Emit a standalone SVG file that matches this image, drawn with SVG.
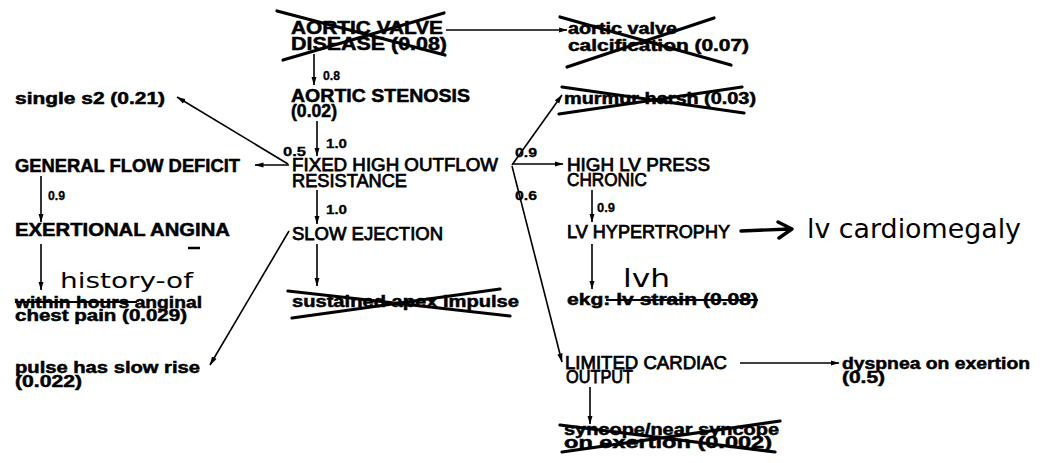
<svg xmlns="http://www.w3.org/2000/svg" width="1042" height="463" viewBox="0 0 1042 463">
  <style>
    text { font-family: "Liberation Sans", Arial, sans-serif; fill: #000; }
    .b { font-size: 17.5px; font-weight: bold; stroke: #000; stroke-width: 0.5; }
    .l { font-size: 16px; font-weight: bold; stroke: #000; stroke-width: 0.5; }
    .m { font-size: 17.5px; stroke: #000; stroke-width: 0.75; }
    .p { font-size: 13px; font-weight: bold; stroke: #000; stroke-width: 0.3; }
    .hand { font-family: "DejaVu Sans", sans-serif; }
    .edge { stroke: #000; stroke-width: 1.6; fill: none; }
    .cross { stroke: #000; stroke-width: 3.2; stroke-linecap: round; fill: none; }
    .strike { stroke: #000; stroke-width: 2; fill: none; }
  </style>
  <defs>
    <marker id="arr" markerUnits="userSpaceOnUse" markerWidth="9" markerHeight="6" refX="8.5" refY="3" orient="auto">
      <path d="M0,0.4 L9,3 L0,5.6 z" fill="#000"/>
    </marker>
  </defs>
  <rect width="1042" height="463" fill="#fff"/>

  <!-- connectors -->
  <g id="connectors">
    <line class="edge" x1="446" y1="30" x2="567" y2="30" marker-end="url(#arr)"/>
    <line class="edge" x1="314" y1="54" x2="314" y2="85" marker-end="url(#arr)"/>
    <line class="edge" x1="317" y1="121" x2="317" y2="156" marker-end="url(#arr)"/>
    <line class="edge" x1="289" y1="165" x2="255" y2="165" marker-end="url(#arr)"/>
    <line class="edge" x1="288" y1="164" x2="177" y2="97" marker-end="url(#arr)"/>
    <line class="edge" x1="317" y1="190" x2="317" y2="224" marker-end="url(#arr)"/>
    <line class="edge" x1="41" y1="176" x2="41" y2="222" marker-end="url(#arr)"/>
    <line class="edge" x1="41" y1="244" x2="41" y2="290" marker-end="url(#arr)"/>
    <line class="edge" x1="289" y1="231" x2="210" y2="365" marker-end="url(#arr)"/>
    <line class="edge" x1="317" y1="244" x2="317" y2="286" marker-end="url(#arr)"/>
    <line class="edge" x1="512" y1="165" x2="562" y2="95" marker-end="url(#arr)"/>
    <line class="edge" x1="512" y1="164" x2="563" y2="164" marker-end="url(#arr)"/>
    <line class="edge" x1="512" y1="166" x2="562" y2="362" marker-end="url(#arr)"/>
    <line class="edge" x1="592" y1="190" x2="592" y2="222" marker-end="url(#arr)"/>
    <line class="edge" x1="592" y1="244" x2="592" y2="289" marker-end="url(#arr)"/>
    <line class="edge" x1="740" y1="363" x2="839" y2="363" marker-end="url(#arr)"/>
    <line class="edge" x1="590" y1="387" x2="590" y2="424" marker-end="url(#arr)"/>
    <!-- hand-drawn arrow to the added note -->
    <path d="M741,231 L790,229 M778,222 L792,229 L779,238" fill="none" stroke="#000" stroke-width="3.4" stroke-linecap="round" stroke-linejoin="round"/>
    <!-- edge probabilities -->
    <text class="p" x="323" y="80" textLength="17" lengthAdjust="spacingAndGlyphs">0.8</text>
    <text class="p" x="326" y="148" textLength="21" lengthAdjust="spacingAndGlyphs">1.0</text>
    <text class="p" x="283" y="156" textLength="23" lengthAdjust="spacingAndGlyphs">0.5</text>
    <text class="p" x="326" y="214" textLength="21" lengthAdjust="spacingAndGlyphs">1.0</text>
    <text class="p" x="48" y="200" textLength="17" lengthAdjust="spacingAndGlyphs">0.9</text>
    <text class="p" x="515" y="157" textLength="22" lengthAdjust="spacingAndGlyphs">0.9</text>
    <text class="p" x="515" y="200" textLength="22" lengthAdjust="spacingAndGlyphs">0.6</text>
    <text class="p" x="597" y="212" textLength="18" lengthAdjust="spacingAndGlyphs">0.9</text>
  </g>

  <g id="aortic-valve-disease">
    <text class="b" x="291" y="34" textLength="152" lengthAdjust="spacingAndGlyphs">AORTIC VALVE</text>
    <text class="b" x="291" y="50" textLength="156" lengthAdjust="spacingAndGlyphs">DISEASE (0.08)</text>
    <path class="cross" d="M277,11 L445,55 M283,60 L444,13"/>
  </g>

  <g id="aortic-valve-calcification">
    <text class="l" x="568" y="34" textLength="109" lengthAdjust="spacingAndGlyphs">aortic valve</text>
    <text class="l" x="568" y="51" textLength="181" lengthAdjust="spacingAndGlyphs">calcification (0.07)</text>
    <path class="cross" d="M560,17 L731,65 M567,67 L714,18"/>
  </g>

  <g id="aortic-stenosis">
    <text class="b" x="291" y="102" textLength="179" lengthAdjust="spacingAndGlyphs">AORTIC STENOSIS</text>
    <text class="b" x="291" y="117" textLength="46" lengthAdjust="spacingAndGlyphs">(0.02)</text>
  </g>

  <g id="murmur">
    <text class="l" x="564" y="104" textLength="192" lengthAdjust="spacingAndGlyphs">murmur harsh (0.03)</text>
    <path class="cross" d="M562,87 L744,113 M559,114 L742,87"/>
  </g>

  <g id="single-s2">
    <text class="l" x="15" y="104" textLength="150" lengthAdjust="spacingAndGlyphs">single s2 (0.21)</text>
  </g>

  <g id="general-flow-deficit">
    <text class="b" x="15" y="172" textLength="225" lengthAdjust="spacingAndGlyphs">GENERAL FLOW DEFICIT</text>
  </g>

  <g id="fixed-high-outflow">
    <text class="m" x="292" y="171" textLength="206" lengthAdjust="spacingAndGlyphs">FIXED HIGH OUTFLOW</text>
    <text class="m" x="292" y="187" textLength="115" lengthAdjust="spacingAndGlyphs">RESISTANCE</text>
  </g>

  <g id="high-lv-press">
    <text class="m" x="567" y="171" textLength="143" lengthAdjust="spacingAndGlyphs">HIGH LV PRESS</text>
    <text class="m" x="567" y="186" textLength="80" lengthAdjust="spacingAndGlyphs">CHRONIC</text>
  </g>

  <g id="exertional-angina">
    <text class="b" x="15" y="236" textLength="215" lengthAdjust="spacingAndGlyphs">EXERTIONAL ANGINA</text>
    <line x1="188" y1="248" x2="200" y2="248" stroke="#000" stroke-width="2.5"/>
  </g>

  <g id="slow-ejection">
    <text class="m" x="292" y="240" textLength="151" lengthAdjust="spacingAndGlyphs">SLOW EJECTION</text>
  </g>

  <g id="lv-hypertrophy">
    <text class="m" x="567" y="238" textLength="163" lengthAdjust="spacingAndGlyphs">LV HYPERTROPHY</text>
  </g>

  <g id="lv-cardiomegaly">
    <text class="hand" x="807" y="238" font-size="27" textLength="214" lengthAdjust="spacingAndGlyphs">lv cardiomegaly</text>
  </g>

  <g id="anginal-chest-pain">
    <text class="hand" x="60" y="288" font-size="22" textLength="133" lengthAdjust="spacingAndGlyphs">history-of</text>
    <text class="l" x="15" y="308" textLength="187" lengthAdjust="spacingAndGlyphs">within hours anginal</text>
    <text class="l" x="15" y="321" textLength="172" lengthAdjust="spacingAndGlyphs">chest pain (0.029)</text>
    <line class="strike" x1="15" y1="302" x2="137" y2="302"/>
  </g>

  <g id="sustained-apex-impulse">
    <text class="l" x="292" y="307" textLength="227" lengthAdjust="spacingAndGlyphs">sustained apex impulse</text>
    <path class="cross" d="M288,291 L510,316 M292,318 L500,289"/>
  </g>

  <g id="ekg">
    <text class="hand" x="623" y="287" font-size="25" textLength="47" lengthAdjust="spacingAndGlyphs">lvh</text>
    <text class="l" x="567" y="305" textLength="191" lengthAdjust="spacingAndGlyphs">ekg: lv strain (0.08)</text>
    <line class="strike" x1="606" y1="300" x2="758" y2="300"/>
  </g>

  <g id="pulse-slow-rise">
    <text class="l" x="15" y="373" textLength="185" lengthAdjust="spacingAndGlyphs">pulse has slow rise</text>
    <text class="l" x="15" y="387" textLength="67" lengthAdjust="spacingAndGlyphs">(0.022)</text>
  </g>

  <g id="limited-cardiac-output">
    <text class="m" x="565" y="369" textLength="162" lengthAdjust="spacingAndGlyphs">LIMITED CARDIAC</text>
    <text class="m" x="566" y="383" textLength="67" lengthAdjust="spacingAndGlyphs">OUTPUT</text>
  </g>

  <g id="dyspnea-on-exertion">
    <text class="l" x="842" y="369" textLength="188" lengthAdjust="spacingAndGlyphs">dyspnea on exertion</text>
    <text class="l" x="842" y="383" textLength="43" lengthAdjust="spacingAndGlyphs">(0.5)</text>
  </g>

  <g id="syncope">
    <text class="l" x="564" y="435" textLength="215" lengthAdjust="spacingAndGlyphs">syncope/near syncope</text>
    <text class="l" x="564" y="448" textLength="208" lengthAdjust="spacingAndGlyphs">on exertion (0.002)</text>
    <path class="cross" d="M560,425 L775,452 M562,452 L780,421"/>
  </g>
</svg>
